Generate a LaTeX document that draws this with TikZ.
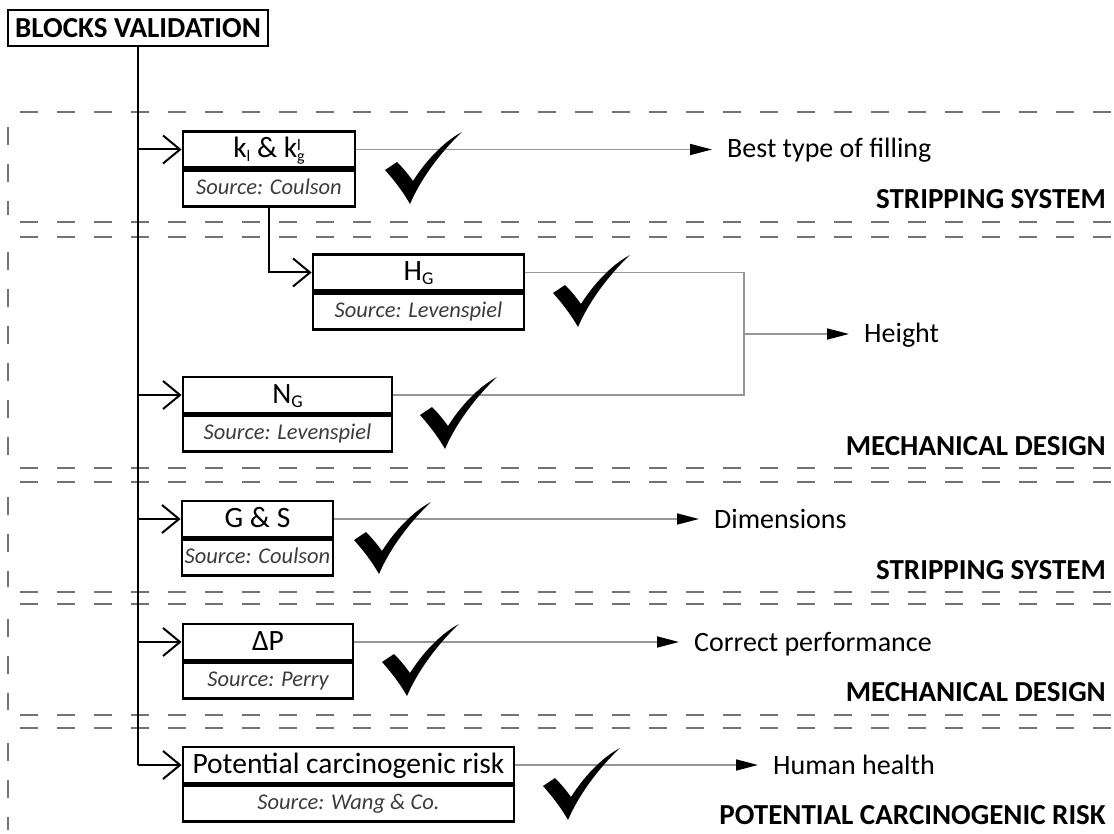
\documentclass[tikz,border=0pt]{standalone}
\usepackage{fontspec}
\setmainfont{Carlito}
\usetikzlibrary{arrows.meta}

\definecolor{linegray}{RGB}{150,150,150}
\definecolor{dashgray}{RGB}{115,115,115}
\definecolor{srctext}{RGB}{60,60,60}

% small lowered text for indices, and a stacked upper/lower index
\newcommand\subtx[2][16]{\raisebox{-4pt}{\fontsize{#1}{#1}\selectfont #2}}
\newcommand\bothtx[2]{\raisebox{-4pt}{\fontsize{16}{12}\selectfont\shortstack[l]{#1\\#2}}}

\begin{document}
\begin{tikzpicture}[x=1pt,y=-1pt,
  ttl/.style={draw, line width=2.8pt, minimum height=36pt, inner sep=0pt,
    text height=20pt, text depth=4pt, font=\fontsize{29.5}{31}\selectfont},
  src/.style={draw, line width=2.8pt, minimum height=36pt, inner sep=0pt,
    text height=16pt, text depth=4pt, text=srctext,
    font=\fontsize{22.5}{25}\selectfont\itshape, anchor=north},
  inarr/.style={line width=2pt, -{Straight Barb[length=17pt,width=28pt]}},
  outarr/.style={draw=linegray, line width=1.6pt,
    -{Triangle[length=22pt,width=11pt,color=black]}, shorten >=15pt},
  grayline/.style={draw=linegray, line width=1.6pt},
  outlbl/.style={anchor=base west, inner sep=0pt, font=\fontsize{28}{30}\selectfont},
  seclbl/.style={anchor=base east, inner sep=0pt, font=\fontsize{29}{31}\selectfont\bfseries},
  sep/.style={draw=dashgray, line width=2pt, dash pattern=on 18pt off 19pt},
  tick/.pic={
    \fill[black] (0,38) -- (12,30) .. controls (18,36) and (23,42) .. (28,49)
      .. controls (40,30) and (58,10) .. (77,0)
      .. controls (60,16) and (38,42) .. (25,72)
      .. controls (17,58) and (8,47) .. (0,38) -- cycle;
  }
]
\useasboundingbox (0,0) rectangle (1114,834);

% section frames
\foreach \y in {112,222,237,468,482,592,604,715,728}
  \draw[sep] (20,\y) -- (1114,\y);
\foreach \a/\b in {127/215,252/462,497/587,619/710,743/830}
  \draw[sep] (8,\a) -- (8,\b);

% section captions
\node[seclbl] (s1) at (1106,209) {STRIPPING SYSTEM};
\node[seclbl] (s2) at (1106,455) {MECHANICAL DESIGN};
\node[seclbl] (s3) at (1106,579) {STRIPPING SYSTEM};
\node[seclbl] (s4) at (1106,701) {MECHANICAL DESIGN};
\node[seclbl] (s5) at (1106,824) {POTENTIAL CARCINOGENIC RISK};

% root
\node[draw, line width=2.6pt, minimum width=260pt, minimum height=36pt, inner sep=0pt,
  font=\fontsize{29}{31}\selectfont\bfseries] (bv) at (138,28) {BLOCKS VALIDATION};

% blocks
\node[ttl, minimum width=172pt] (k) at (269,149.5) {k\subtx{l} \& k\bothtx{l}{g}};
\node[src, minimum width=172pt] (ks) at (k.south) {Source: Coulson};

\node[ttl, minimum width=211pt] (hg) at (418.5,272.5) {H\subtx[18]{G}};
\node[src, minimum width=211pt] (hgs) at (hg.south) {Source: Levenspiel};

\node[ttl, minimum width=209pt] (ng) at (287.5,395) {N\subtx[18]{G}};
\node[src, minimum width=209pt] (ngs) at (ng.south) {Source: Levenspiel};

\node[ttl, minimum width=151pt] (gs) at (257.5,519) {G \& S};
\node[src, minimum width=151pt] (gss) at (gs.south) {Source: Coulson};

\node[ttl, minimum width=170pt] (dp) at (268,642) {ΔP};
\node[src, minimum width=170pt] (dps) at (dp.south) {Source: Perry};

\node[ttl, minimum width=331pt] (pc) at (348.5,765) {Potential carcinogenic risk};
\node[src, minimum width=331pt] (pcs) at (pc.south) {Source: Wang \& Co.};

% outcomes
\node[outlbl] (best) at (727,158) {Best type of filling};
\node[outlbl] (height) at (864,343) {Height};
\node[outlbl] (dims) at (714,528) {Dimensions};
\node[outlbl] (perf) at (694,651) {Correct performance};
\node[outlbl] (health) at (773,774) {Human health};

% trunk and branches
\draw[line width=2pt] (bv.south) -- (bv.south |- pc.west);
\draw[inarr] (bv.south |- k.west) -- (k.west);
\draw[inarr] (bv.south |- ng.west) -- (ng.west);
\draw[inarr] (bv.south |- gs.west) -- (gs.west);
\draw[inarr] (bv.south |- dp.west) -- (dp.west);
\draw[inarr] (bv.south |- pc.west) -- (pc.west);
\draw[inarr] (ks.south) |- (hg.west);

% results
\draw[outarr] (k.east) -- (k.east -| best.west);
\coordinate (join) at (744,334);
\draw[grayline] (hg.east) -| (join) |- (ng.east);
\draw[outarr] (join) -- (join -| height.west);
\draw[outarr] (gs.east) -- (gs.east -| dims.west);
\draw[outarr] (dp.east) -- (dp.east -| perf.west);
\draw[outarr] (pc.east) -- (pc.east -| health.west);

% check marks
\pic at (385,132) {tick};
\pic at (553,255) {tick};
\pic at (420,377) {tick};
\pic at (354,502) {tick};
\pic at (382,624) {tick};
\pic at (543,748) {tick};
\end{tikzpicture}
\end{document}
